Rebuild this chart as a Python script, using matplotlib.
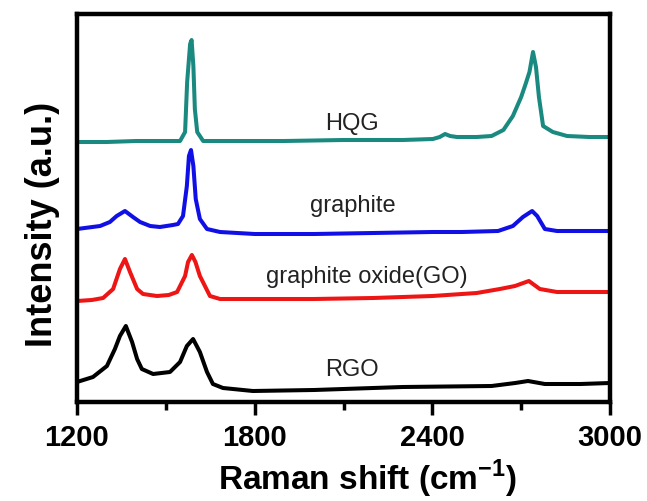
import numpy as np
import matplotlib
matplotlib.use("Agg")
import matplotlib.pyplot as plt

plt.rcParams['font.family'] = ['Liberation Sans', 'DejaVu Sans']
plt.rcParams['mathtext.fontset'] = 'custom'
plt.rcParams['mathtext.rm'] = 'Liberation Sans'
plt.rcParams['mathtext.bf'] = 'Liberation Sans:bold'

# Raman spectra (intensity in arbitrary units, stacked)
hqg_x = [1200, 1300, 1400, 1500, 1548, 1565, 1572, 1582, 1587, 1593, 1598, 1606, 1626,
         1700, 1900, 2100, 2300, 2402, 2425, 2443, 2460, 2483, 2550, 2600, 2640, 2672,
         2700, 2715, 2728, 2740, 2750, 2760, 2774, 2807, 2855, 2930, 3000]
hqg_y = [260, 260, 261, 261, 261, 270, 320, 358, 362, 336, 293, 270, 261,
         261, 261, 262, 262, 263, 265, 268, 266, 265, 265, 266, 272, 286,
         305, 318, 330, 350, 335, 305, 276, 270, 266, 265, 265]

graphite_x = [1200, 1278, 1311, 1334, 1362, 1389, 1413, 1447, 1480, 1524, 1541, 1558,
              1571, 1578, 1585, 1593, 1601, 1615, 1639, 1683, 1800, 2000, 2200, 2400,
              2500, 2622, 2672, 2706, 2737, 2754, 2780, 2821, 2900, 3000]
graphite_y = [173, 176, 180, 186, 191, 185, 180, 176, 175, 177, 178, 186,
              216, 246, 252, 236, 203, 183, 173, 170, 168, 168, 169, 170,
              170, 171, 176, 185, 191, 186, 173, 171, 171, 171]

go_x = [1200, 1250, 1288, 1322, 1345, 1362, 1379, 1403, 1423, 1470, 1510, 1538, 1565,
        1575, 1588, 1600, 1615, 1649, 1683, 1800, 2000, 2200, 2400, 2550, 2628, 2679,
        2726, 2763, 2821, 2899, 3000]
go_y = [101, 102, 104, 113, 133, 143, 130, 113, 108, 106, 107, 110, 126,
        140, 147, 140, 126, 106, 103, 103, 103, 104, 106, 109, 113, 116,
        121, 113, 110, 110, 110]

rgo_x = [1200, 1254, 1301, 1328, 1345, 1365, 1386, 1403, 1419, 1457, 1514, 1548, 1571,
         1592, 1615, 1639, 1659, 1693, 1794, 2000, 2300, 2600, 2680, 2723, 2780, 2900, 3000]
rgo_y = [20, 25, 36, 53, 66, 76, 60, 43, 33, 28, 30, 40, 56,
         63, 50, 30, 18, 14, 11, 12, 15, 16, 19, 21, 18, 18, 19]

names = ["HQG", "graphite", "graphite oxide(GO)", "RGO"]
label_x = [2129, 2132, 2179, 2129]
label_y = [273, 191, 120, 27]

fig = plt.figure(figsize=(6.47, 5.02), dpi=100)
ax = fig.add_axes([77/647, 1-403/502, 533/647, 388.3/502])

ax.plot(hqg_x, hqg_y, color="#1a8a80", linewidth=2.9)
ax.plot(graphite_x, graphite_y, color="#1010e6", linewidth=2.9)
ax.plot(go_x, go_y, color="#ee1515", linewidth=2.9)
ax.plot(rgo_x, rgo_y, color="black", linewidth=2.9)

for name, tx, ty in zip(names, label_x, label_y):
    ax.text(tx, ty, name, ha="center", va="baseline", fontsize=17, color="#222222")

ax.set_xlim(1200, 3000)
ax.set_ylim(0, 388.3)
ax.set_xticks([1200, 1800, 2400, 3000])
ax.set_xticks([1500, 2100, 2700], minor=True)
ax.set_yticks([])
ax.tick_params(axis="x", which="major", direction="out", length=9, width=2.5,
               labelsize=21, pad=6)
ax.tick_params(axis="x", which="minor", direction="out", length=6, width=2.5)
for lab in ax.get_xticklabels():
    lab.set_fontweight("bold")
for sp in ax.spines.values():
    sp.set_linewidth(3.2)

ax.set_xlabel(r"Raman shift (cm$^{\mathbf{-1}}$)", fontsize=24, fontweight="bold", va="baseline")
ax.xaxis.set_label_coords(0.545, -0.224)
ax.set_ylabel("Intensity (a.u.)", fontsize=26, fontweight="bold", va="baseline")
ax.yaxis.set_label_coords(-0.046, 0.46)

fig.savefig("out.png", dpi=100)
